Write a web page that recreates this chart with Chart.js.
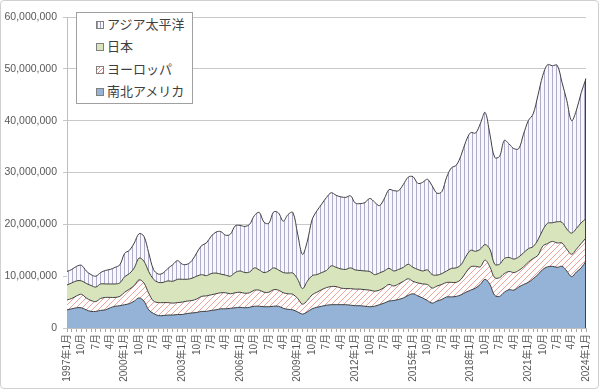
<!DOCTYPE html>
<html>
<head>
<meta charset="utf-8">
<script src="https://cdn.jsdelivr.net/npm/chart.js@4.4.1/dist/chart.umd.min.js"></script>
<style>
  html, body { margin: 0; padding: 0; background: #fff; }
  #wrap { position: relative; width: 600px; height: 391px; }
  #frame { position: absolute; left: 0; top: 0; width: 597px; height: 387px;
           border: 1px solid #d0d0d0; border-radius: 4px; pointer-events: none; }
  #legend { position: absolute; left: 76px; top: 12px; width: 115px; height: 90px;
            border: 1px solid #a0a0a0; background: #fff;
            font: 13px "Noto Sans CJK JP", "Liberation Sans", sans-serif; color: #404040; }
  .row { position: relative; height: 22.4px; line-height: 22.4px; }
  .ico { position: absolute; left: 19px; top: 8px; width: 6px; height: 6px; border: 1px solid #7f7f7f; }
  .txt { position: absolute; left: 30px; top: 0; }
</style>
</head>
<body>
<div id="wrap">
  <canvas id="chartCanvas" width="600" height="391"></canvas>
  <div id="frame"></div>
  <div id="legend">
    <div class="row"><span class="ico" style="background: repeating-linear-gradient(90deg, #9c9aba 0 1px, #f7f7fc 1px 3px);"></span><span class="txt">アジア太平洋</span></div>
    <div class="row"><span class="ico" style="background: #d8e4bc;"></span><span class="txt">日本</span></div>
    <div class="row"><span class="ico" style="background: repeating-linear-gradient(-45deg, #e08a80 0 1px, #fff 1px 3px);"></span><span class="txt">ヨーロッパ</span></div>
    <div class="row"><span class="ico" style="background: #95b3d7;"></span><span class="txt">南北アメリカ</span></div>
  </div>
</div>
<script>
// quarterly categories, 1997年1月 .. 2024年1月
const quarterLabels = [];
for (let y = 1997; y <= 2024; y++) {
  for (const m of [1, 4, 7, 10]) {
    if (y === 2024 && m > 1) break;
    quarterLabels.push(m === 1 ? y + '年1月' : m + '月');
  }
}

// values in millions (one per quarter)
const americas = [
  3.5,3.7,3.9,3.9,3.5,3.2,3.2,3.4,3.5,3.9,4.2,4.3,
  4.5,4.7,5.2,5.8,5.2,3.5,2.8,2.4,2.4,2.5,2.5,2.6,
  2.6,2.8,2.9,3.0,3.2,3.2,3.4,3.5,3.7,3.7,3.8,3.9,
  4.0,3.9,4.0,4.2,4.2,4.1,4.1,4.2,4.2,3.8,3.6,3.5,
  3.1,2.7,3.1,3.7,4.0,4.2,4.4,4.5,4.5,4.5,4.5,4.4,
  4.3,4.3,4.2,4.1,4.2,4.5,4.8,5.2,5.3,5.5,5.8,6.3,
  6.6,6.2,5.8,5.3,4.8,5.2,5.5,6.0,6.0,6.1,6.4,6.9,
  7.3,7.7,8.4,9.4,8.4,6.3,6.1,6.9,7.4,7.3,7.9,8.4,
  8.8,9.5,10.3,11.3,11.8,11.9,11.7,11.9,11.0,9.9,10.8,11.6,
  12.9
];
const europe = [
  1.9,2.0,2.3,2.6,2.3,2.1,1.9,2.3,2.4,2.0,1.7,1.8,
  2.4,2.8,3.0,3.5,3.5,3.2,2.4,2.5,2.5,2.4,2.3,2.3,
  2.4,2.4,2.4,2.6,2.9,3.0,3.0,3.1,3.1,3.1,2.8,2.9,
  2.9,2.8,2.8,3.1,3.1,2.8,2.8,3.2,3.1,3.0,3.0,3.0,
  2.6,1.9,2.2,2.7,2.9,3.2,3.4,3.5,3.5,3.2,3.1,3.2,
  3.2,3.2,3.2,3.2,2.9,2.8,3.0,3.2,2.8,3.0,3.2,3.2,
  2.4,2.5,2.7,3.1,2.9,2.9,2.9,2.8,2.8,2.7,3.0,3.8,
  4.5,4.2,3.4,3.7,3.4,3.4,3.6,3.6,3.5,3.4,3.2,3.4,
  3.9,3.9,3.7,4.5,4.5,4.8,4.7,4.5,4.2,4.3,4.4,4.7,
  4.5
];
const japan = [
  2.9,3.0,2.9,2.6,2.8,2.9,2.8,2.8,2.6,2.6,2.6,2.6,
  3.0,3.0,3.4,4.2,4.2,4.2,4.2,3.9,3.9,4.2,4.2,4.5,
  4.4,4.2,4.3,4.4,4.2,3.9,4.1,4.0,3.6,3.4,3.4,3.9,
  4.1,4.0,4.0,4.3,3.9,3.8,4.1,4.2,3.9,3.9,4.0,4.1,
  3.7,3.0,3.7,3.7,3.4,3.3,3.3,4.0,3.7,3.7,3.7,4.0,
  3.7,3.6,3.6,3.6,3.2,3.3,3.2,3.1,2.9,2.8,2.7,2.8,
  2.7,2.6,2.5,2.8,2.6,2.1,2.1,2.2,2.7,2.8,2.8,3.1,
  3.2,2.9,3.4,3.0,3.4,2.6,2.6,2.9,2.7,2.6,2.6,2.7,
  2.6,2.3,3.0,3.1,3.9,3.6,4.1,4.0,3.9,4.1,4.0,4.0,
  3.7
];
const asiaPacific = [
  2.6,2.6,2.8,3.0,2.4,2.1,2.1,2.2,2.6,2.8,3.2,3.5,
  4.5,4.5,4.8,4.7,4.8,3.6,1.9,1.6,1.8,2.4,3.2,3.6,
  2.9,2.9,3.4,4.5,5.6,6.3,7.2,7.9,8.2,7.7,8.1,9.0,
  8.8,8.9,9.2,10.1,11.1,9.7,9.2,10.8,11.0,9.9,11.3,11.7,
  8.7,6.6,7.7,10.8,12.3,13.2,14.1,14.1,13.9,13.9,13.9,13.9,
  12.9,12.9,13.2,14.1,14.0,13.0,13.9,15.2,15.5,15.2,16.0,16.8,
  17.5,16.6,17.1,17.5,17.1,15.8,15.8,18.1,19.4,19.8,21.1,22.2,
  22.7,22.8,24.2,25.5,22.2,20.6,20.8,22.8,21.9,21.3,20.9,22.9,
  24.7,25.6,27.9,29.8,30.6,30.3,30.2,27.0,24.8,21.7,22.8,25.1,
  27.0
];

const yTicks = [0, 10, 20, 30, 40, 50, 60];

function makePattern(w, h, bg, draw) {
  const c = document.createElement('canvas');
  c.width = w; c.height = h;
  const g = c.getContext('2d');
  g.fillStyle = bg;
  g.fillRect(0, 0, w, h);
  draw(g);
  return g.createPattern(c, 'repeat');
}

const ctx = document.getElementById('chartCanvas').getContext('2d');

const vertLines = makePattern(4, 4, '#f7f7fc', g => {
  g.fillStyle = '#aeacc8';
  g.fillRect(0, 0, 1, 4);
});
const hatch = makePattern(6, 6, '#ffffff', g => {
  g.strokeStyle = '#efa49b';
  g.lineWidth = 1;
  g.beginPath();
  g.moveTo(0, 6); g.lineTo(6, 0);
  g.moveTo(-1, 1); g.lineTo(1, -1);
  g.moveTo(5, 7); g.lineTo(7, 5);
  g.stroke();
});

// closes the stacked area on the right edge with a vertical border line
const rightEdge = {
  id: 'rightEdge',
  afterDatasetsDraw(chart) {
    const top = chart.getDatasetMeta(chart.data.datasets.length - 1).data;
    const last = top[top.length - 1];
    const c = chart.ctx;
    c.save();
    c.strokeStyle = '#404040';
    c.lineWidth = 1;
    c.beginPath();
    c.moveTo(Math.round(last.x) - 0.5, last.y);
    c.lineTo(Math.round(last.x) - 0.5, chart.scales.y.getPixelForValue(0));
    c.stroke();
    c.restore();
  }
};

const lineOpts = { borderColor: '#404040', borderWidth: 1, pointRadius: 0, tension: 0.35 };

new Chart(ctx, {
  type: 'line',
  data: {
    labels: quarterLabels,
    datasets: [
      { label: '南北アメリカ', data: americas, backgroundColor: '#95b3d7', fill: 'origin', ...lineOpts },
      { label: 'ヨーロッパ', data: europe, backgroundColor: hatch, fill: '-1', ...lineOpts },
      { label: '日本', data: japan, backgroundColor: '#d8e4bc', fill: '-1', ...lineOpts },
      { label: 'アジア太平洋', data: asiaPacific, backgroundColor: vertLines, fill: '-1', ...lineOpts }
    ]
  },
  plugins: [rightEdge],
  options: {
    responsive: false,
    animation: false,
    devicePixelRatio: 1,
    layout: { padding: { left: 4, right: 14, top: 17, bottom: 4 } },
    plugins: { legend: { display: false }, tooltip: { enabled: false } },
    scales: {
      x: {
        offset: false,
        grid: { display: true, drawOnChartArea: false, drawTicks: true, tickLength: 4, color: '#a6a6a6' },
        border: { color: '#bfbfbf' },
        ticks: {
          autoSkip: false, maxRotation: 90, minRotation: 90, padding: 2,
          color: '#595959',
          font: { family: '"Liberation Sans", "Noto Sans CJK JP", sans-serif', size: 10 },
          callback: function (val, idx) { return idx % 3 === 0 ? this.getLabelForValue(val) : ''; }
        },
        afterFit: s => { s.height = 59; }
      },
      y: {
        stacked: true,
        min: 0, max: 60,
        grid: { color: '#c8c8c8', tickLength: 4 },
        border: { color: '#bfbfbf' },
        ticks: {
          stepSize: 10, padding: 6, color: '#595959',
          font: { family: '"Liberation Sans", sans-serif', size: 10.5 },
          callback: v => yTicks.includes(v) ? (v * 1000000).toLocaleString('en-US') : ''
        },
        afterFit: s => { s.width = 63; }
      }
    }
  }
});
</script>
</body>
</html>
